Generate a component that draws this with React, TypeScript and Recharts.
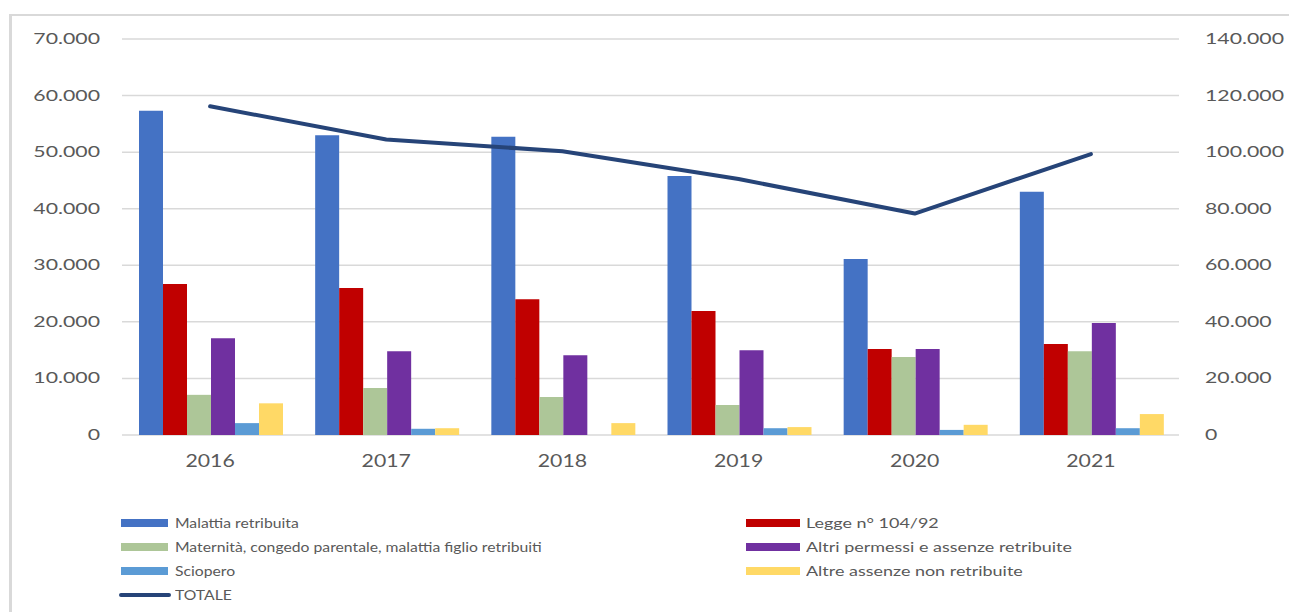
import React from 'react';
import {
  ComposedChart,
  Bar,
  Line,
  XAxis,
  YAxis,
  CartesianGrid,
} from 'recharts';

const years = ['2016', '2017', '2018', '2019', '2020', '2021'];
const malattia = [57300, 53000, 52700, 45800, 31100, 43000];
const legge104 = [26700, 26000, 24000, 21900, 15200, 16100];
const maternita = [7100, 8300, 6700, 5300, 13800, 14800];
const altriPermessi = [17100, 14800, 14100, 15000, 15200, 19800];
const sciopero = [2100, 1100, 0, 1200, 900, 1200];
const altreAssenze = [5600, 1200, 2100, 1400, 1800, 3700];
const totale = [116200, 104500, 100300, 90500, 78300, 99300];

const leftTicks = [0, 10000, 20000, 30000, 40000, 50000, 60000, 70000];
const rightTicks = [0, 20000, 40000, 60000, 80000, 100000, 120000, 140000];

// bar series, in the order Excel draws them
const BAR_SERIES = [
  { key: 'malattia', name: 'Malattia retribuita', color: '#4472C4' },
  { key: 'legge104', name: 'Legge n° 104/92', color: '#C00000' },
  { key: 'maternita', name: 'Maternità, congedo parentale, malattia figlio retribuiti', color: '#ADC698' },
  { key: 'altriPermessi', name: 'Altri permessi e assenze retribuite', color: '#7030A0' },
  { key: 'sciopero', name: 'Sciopero', color: '#5B9BD5' },
  { key: 'altreAssenze', name: 'Altre assenze non retribuite', color: '#FFD966' },
];
const LINE_COLOR = '#264478';
const TEXT = '#595959';
const FONT = 'Lato, "Open Sans", sans-serif';

const chartData = years.map((year, i) => ({
  year,
  malattia: malattia[i],
  legge104: legge104[i],
  maternita: maternita[i],
  altriPermessi: altriPermessi[i],
  sciopero: sciopero[i],
  altreAssenze: altreAssenze[i],
  totale: totale[i],
}));

// Italian thousands separator
const fmt = (v: number) => String(v).replace(/\B(?=(\d{3})+(?!\d))/g, '.');

const stretch = (x: number, y: number, s: number) =>
  `translate(${x},${y}) scale(${s},1) translate(${-x},${-y})`;

const LeftTick = (props: any) => {
  const { x, y, payload } = props;
  return (
    <text x={x} y={y + 5} textAnchor="end" fill={TEXT} fontSize={16} fontFamily={FONT}
      transform={stretch(x, y, 1.33)}>
      {fmt(payload.value)}
    </text>
  );
};

const RightTick = (props: any) => {
  const { x, y, payload } = props;
  return (
    <text x={x} y={y + 5} textAnchor="start" fill={TEXT} fontSize={16} fontFamily={FONT}
      transform={stretch(x, y, 1.33)}>
      {fmt(payload.value)}
    </text>
  );
};

const YearTick = (props: any) => {
  const { x, y, payload } = props;
  return (
    <text x={x} y={y + 32} textAnchor="middle" fill={TEXT} fontSize={17} fontFamily={FONT}
      transform={stretch(x, y, 1.25)}>
      {payload.value}
    </text>
  );
};

// legend: two columns, Excel row-major order
const legendLeft = [BAR_SERIES[0], BAR_SERIES[2], BAR_SERIES[4]];
const legendRight = [BAR_SERIES[1], BAR_SERIES[3], BAR_SERIES[5]];
const ROW_Y = [523, 547, 571, 595];

const LegendLabel: React.FC<{ left: number; top: number; text: string; sx: number }> = ({ left, top, text, sx }) => (
  <div
    style={{
      position: 'absolute',
      left,
      top: top - 9,
      height: 18,
      lineHeight: '18px',
      fontSize: 13,
      fontFamily: FONT,
      color: TEXT,
      whiteSpace: 'nowrap',
      transform: `scaleX(${sx})`,
      transformOrigin: 'left center',
    }}
  >
    {text}
  </div>
);

const App: React.FC = () => {
  return (
    <div style={{ position: 'absolute', left: 0, top: 0, width: 1289, height: 612, background: '#fff', overflow: 'hidden' }}>
      {/* chart area frame, only top and left edges show */}
      <div
        style={{
          position: 'absolute',
          left: 9,
          top: 14,
          width: 1300,
          height: 620,
          borderTop: '2px solid #D9D9D9',
          borderLeft: '3px solid #D9D9D9',
        }}
      />
      <div style={{ position: 'absolute', left: 0, top: 0 }}>
        <ComposedChart
          width={1289}
          height={612}
          data={chartData}
          margin={{ top: 39, right: 0, left: 0, bottom: 147 }}
          barCategoryGap={17}
          barGap={0}
        >
          <CartesianGrid yAxisId="left" vertical={false} stroke="#D9D9D9" strokeWidth={1.5} />
          <XAxis
            dataKey="year"
            axisLine={false}
            tickLine={false}
            tickSize={0}
            tickMargin={0}
            height={30}
            tick={<YearTick />}
          />
          <YAxis
            yAxisId="left"
            orientation="left"
            width={122}
            domain={[0, 70000]}
            ticks={leftTicks}
            axisLine={false}
            tickLine={false}
            tickSize={0}
            tickMargin={22}
            tick={<LeftTick />}
          />
          <YAxis
            yAxisId="right"
            orientation="right"
            width={110}
            domain={[0, 140000]}
            ticks={rightTicks}
            axisLine={false}
            tickLine={false}
            tickSize={0}
            tickMargin={26}
            tick={<RightTick />}
          />
          {BAR_SERIES.map((s) => (
            <Bar
              key={s.key}
              yAxisId="left"
              dataKey={s.key}
              name={s.name}
              fill={s.color}
              isAnimationActive={false}
            />
          ))}
          <Line
            yAxisId="right"
            type="linear"
            dataKey="totale"
            name="TOTALE"
            stroke={LINE_COLOR}
            strokeWidth={4}
            strokeLinecap="round"
            strokeLinejoin="round"
            dot={false}
            activeDot={false}
            isAnimationActive={false}
          />
        </ComposedChart>
      </div>

      {legendLeft.map((s, i) => (
        <React.Fragment key={s.key}>
          <div style={{ position: 'absolute', left: 121, top: ROW_Y[i] - 4, width: 47, height: 8, background: s.color }} />
          <LegendLabel left={175} top={ROW_Y[i]} text={s.name} sx={1.21} />
        </React.Fragment>
      ))}
      <div style={{ position: 'absolute', left: 119, top: ROW_Y[3] - 2, width: 52, height: 4, borderRadius: 2, background: LINE_COLOR }} />
      <LegendLabel left={175} top={ROW_Y[3]} text="TOTALE" sx={1.21} />

      {legendRight.map((s, i) => (
        <React.Fragment key={s.key}>
          <div style={{ position: 'absolute', left: 746, top: ROW_Y[i] - 4, width: 54, height: 8, background: s.color }} />
          <LegendLabel left={806} top={ROW_Y[i]} text={s.name} sx={1.38} />
        </React.Fragment>
      ))}
    </div>
  );
};

export default App;
